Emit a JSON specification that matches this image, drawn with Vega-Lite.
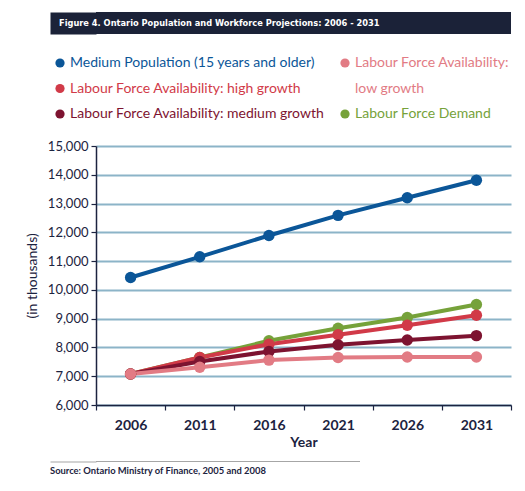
{
  "$schema": "https://vega.github.io/schema/vega-lite/v6.json",
  "padding": {"left": 25, "top": 12, "right": 10, "bottom": 5},
  "background": "white",
  "spacing": 12,
  "resolve": {"legend": {"color": "independent"}, "scale": {"color": "independent"}},
  "config": {"view": {"stroke": null}, "font": "Lato"},
  "datasets": {
    "heading": [{"t": "Figure 4. Ontario Population and Workforce Projections: 2006 - 2031"}],
    "source": [{"s": "Source: Ontario Ministry of Finance, 2005 and 2008"}],
    "proj": [
      {"year": "2006", "series": "Labour Force Demand", "value": 7080},
      {"year": "2011", "series": "Labour Force Demand", "value": 7650},
      {"year": "2016", "series": "Labour Force Demand", "value": 8230},
      {"year": "2021", "series": "Labour Force Demand", "value": 8670},
      {"year": "2026", "series": "Labour Force Demand", "value": 9040},
      {"year": "2031", "series": "Labour Force Demand", "value": 9490},
      {"year": "2006", "series": "Labour Force Availability: high growth", "value": 7080},
      {"year": "2011", "series": "Labour Force Availability: high growth", "value": 7650},
      {"year": "2016", "series": "Labour Force Availability: high growth", "value": 8110},
      {"year": "2021", "series": "Labour Force Availability: high growth", "value": 8440},
      {"year": "2026", "series": "Labour Force Availability: high growth", "value": 8770},
      {"year": "2031", "series": "Labour Force Availability: high growth", "value": 9120},
      {"year": "2006", "series": "Labour Force Availability: medium growth", "value": 7080},
      {"year": "2011", "series": "Labour Force Availability: medium growth", "value": 7510},
      {"year": "2016", "series": "Labour Force Availability: medium growth", "value": 7860},
      {"year": "2021", "series": "Labour Force Availability: medium growth", "value": 8090},
      {"year": "2026", "series": "Labour Force Availability: medium growth", "value": 8260},
      {"year": "2031", "series": "Labour Force Availability: medium growth", "value": 8410},
      {"year": "2006", "series": "Labour Force Availability: low growth", "value": 7080},
      {"year": "2011", "series": "Labour Force Availability: low growth", "value": 7310},
      {"year": "2016", "series": "Labour Force Availability: low growth", "value": 7560},
      {"year": "2021", "series": "Labour Force Availability: low growth", "value": 7650},
      {"year": "2026", "series": "Labour Force Availability: low growth", "value": 7670},
      {"year": "2031", "series": "Labour Force Availability: low growth", "value": 7670},
      {"year": "2006", "series": "Medium Population (15 years and older)", "value": 10430},
      {"year": "2011", "series": "Medium Population (15 years and older)", "value": 11150},
      {"year": "2016", "series": "Medium Population (15 years and older)", "value": 11890},
      {"year": "2021", "series": "Medium Population (15 years and older)", "value": 12590},
      {"year": "2026", "series": "Medium Population (15 years and older)", "value": 13200},
      {"year": "2031", "series": "Medium Population (15 years and older)", "value": 13810}
    ]
  },
  "vconcat": [
    {
      "width": 415,
      "height": 22,
      "view": {"fill": "#1b2238", "stroke": null},
      "data": {"name": "heading"},
      "mark": {"type": "text", "align": "left", "baseline": "middle", "color": "white", "font": "DejaVu Sans Condensed", "fontWeight": "bold", "fontSize": 9.2, "dx": -37},
      "encoding": {
        "text": {"field": "t"},
        "x": {"value": 0},
        "y": {"field": "t", "type": "nominal", "axis": {"title": null, "labels": false, "ticks": false, "grid": false, "domain": true, "domainColor": "#1b2238", "domainWidth": 46, "offset": 23}}
      }
    },
    {
      "width": 415,
      "height": 259,
      "data": {"name": "proj"},
      "encoding": {
        "x": {
          "field": "year", "type": "ordinal",
          "scale": {"type": "band", "paddingInner": 0, "paddingOuter": 0},
          "axis": {"tickBand": "extent", "labelAngle": 0, "labelFontWeight": "bold", "labelFontSize": 14, "labelColor": "#1c2340", "labelPadding": 8, "domainColor": "#1c2340", "domainWidth": 1.5, "tickColor": "#1c2340", "tickSize": 5, "tickWidth": 1.2, "grid": false, "title": "Year", "titleFontSize": 14, "titleFontWeight": "bold", "titleColor": "#1c2340", "titlePadding": 3}
        },
        "y": {
          "field": "value", "type": "quantitative",
          "scale": {"domain": [6000, 15000], "nice": false, "zero": false},
          "axis": {"values": [6000, 7000, 8000, 9000, 10000, 11000, 12000, 13000, 14000, 15000], "format": ",d", "labelFontSize": 13, "labelColor": "#1c2340", "labelPadding": 3, "tickColor": "#1c2340", "tickSize": 5, "tickWidth": 1.2, "domainColor": "#1c2340", "domainWidth": 1.5, "grid": true, "gridColor": "#8cb4c8", "gridWidth": 1.8, "title": "(in thousands)", "titleFontSize": 14, "titleFontWeight": "normal", "titleColor": "#1c2340", "titlePadding": 8}
        },
        "color": {
          "field": "series", "type": "nominal",
          "scale": {
            "domain": ["Medium Population (15 years and older)", "Labour Force Availability: high growth", "Labour Force Availability: medium growth", "Labour Force Availability: low growth", "low growth", "Labour Force Demand"],
            "range": ["#0b5698", "#d13a48", "#7d1330", "#e27b84", "#e27b84", "#76a23a"]
          },
          "legend": {
            "orient": "none", "legendX": -53, "legendY": -100, "padding": 10,
            "columns": 2, "title": null, "symbolType": "circle", "symbolSize": 85, "symbolStrokeWidth": 0,
            "labelFont": "Lato", "labelFontSize": 14, "labelOffset": 3, "labelLimit": 400,
            "rowPadding": 11.5, "columnPadding": 13,
            "labelExpr": "datum.label === 'Labour Force Availability: low growth' ? 'Labour Force Availability:' : datum.label",
            "encode": {
              "labels": {"update": {"fill": {"signal": "datum.value === 'Medium Population (15 years and older)' ? '#0b5698' : datum.value === 'Labour Force Availability: high growth' ? '#d13a48' : datum.value === 'Labour Force Availability: medium growth' ? '#7d1330' : datum.value === 'Labour Force Demand' ? '#76a23a' : '#e27b84'"}}},
              "symbols": {"update": {"opacity": {"signal": "datum.value === 'low growth' ? 0 : 1"}}}
            }
          }
        }
      },
      "layer": [
        {"mark": {"type": "line", "strokeWidth": 4}},
        {"mark": {"type": "point", "filled": true, "size": 130, "opacity": 1}}
      ]
    },
    {
      "width": 264,
      "height": 1,
      "view": {"fill": "#a6a6a6", "stroke": null},
      "data": {"name": "source"},
      "mark": {"type": "text", "align": "left", "baseline": "top", "color": "#1c2340", "font": "Lato", "fontWeight": "bold", "fontSize": 9.4, "dx": -46, "dy": 5},
      "encoding": {
        "text": {"field": "s"},
        "x": {"value": 0},
        "y": {"field": "s", "type": "nominal", "axis": {"title": null, "labels": false, "ticks": false, "grid": false, "domain": true, "domainColor": "#a6a6a6", "domainWidth": 46, "offset": 23}}
      }
    }
  ]
}
